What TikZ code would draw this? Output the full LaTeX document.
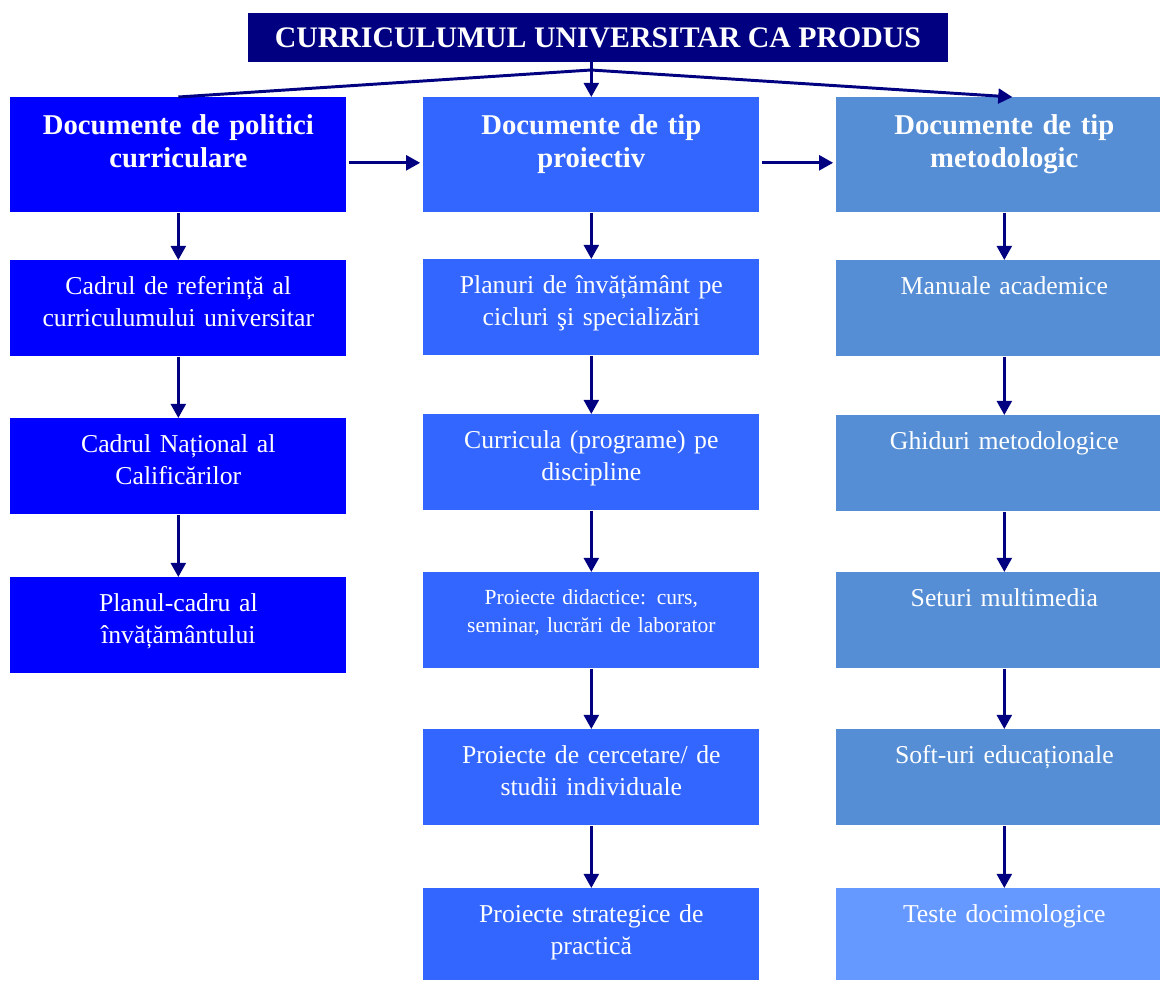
\documentclass[tikz,border=0pt]{standalone}
\usepackage{fontspec}
\setmainfont{Liberation Serif}
\usetikzlibrary{arrows.meta, positioning}

\definecolor{navyline}{HTML}{000080}
\definecolor{polblue}{HTML}{0000FF}
\definecolor{projblue}{HTML}{3366FF}
\definecolor{metblue}{HTML}{558ED5}
\definecolor{testblue}{HTML}{6699FF}

\begin{document}
\begin{tikzpicture}[
    x=0.025cm, y=-0.025cm,
    cell/.style={rectangle, anchor=north west, inner sep=0pt, text=white, align=center, text width=8.4cm},
    head/.style={cell, font=\fontsize{20.4}{23.5}\selectfont\bfseries, text height=0.925cm, text depth=1.95cm},
    body/.style={cell, font=\fontsize{18.3}{22.8}\selectfont, text height=0.85cm, text depth=1.55cm},
    small/.style={cell, font=\fontsize{15.3}{20}\selectfont, text height=0.8cm, text depth=1.6cm},
    last/.style={body, text depth=1.45cm},
    arr/.style={-{Triangle[length=10pt, width=10.5pt]}, line width=2.1pt, navyline},
    link/.style={line width=2.1pt, navyline}
]
\useasboundingbox (0,0) rectangle (1160,981);

% ---- Title ----
\node[fill=navyline, minimum width=17.5cm, minimum height=1.225cm, inner sep=0pt,
      text=white, font=\fontsize{21.2}{23.5}\selectfont\bfseries]
    (title) at (598,37.5) {CURRICULUMUL UNIVERSITAR CA PRODUS};

% ---- Left column: politici curriculare ----
\node[head, fill=polblue] (lhead) at (10,97)  {Documente de politici\\curriculare};
\node[body, fill=polblue] (lref)  at (10,260) {Cadrul de referință al\\curriculumului universitar};
\node[body, fill=polblue] (lcnc)  at (10,418) {Cadrul Național al\\Calificărilor};
\node[body, fill=polblue] (lplan) at (10,577) {Planul-cadru al\\învățământului};

% ---- Middle column: tip proiectiv ----
\node[head, fill=projblue]  (mhead)  at (423,97)  {Documente de tip\\proiectiv};
\node[body, fill=projblue]  (mplan)  at (423,259) {Planuri de învățământ pe\\cicluri şi specializări};
\node[body, fill=projblue]  (mcurr)  at (423,414) {Curricula (programe) pe\\discipline};
\node[small, fill=projblue] (mdid)   at (423,572) {Proiecte didactice: curs,\\seminar, lucrări de laborator};
\node[body, fill=projblue]  (mcerc)  at (423,729) {Proiecte de cercetare/ de\\studii individuale};
\node[last, fill=projblue]  (mstrat) at (423,888) {Proiecte strategice de\\practică};

% ---- Right column: tip metodologic (cut by the right border) ----
\node[head, fill=metblue]  (rhead) at (836,97)  {Documente de tip\\metodologic};
\node[body, fill=metblue]  (rman)  at (836,260) {Manuale academice};
\node[body, fill=metblue]  (rghid) at (836,415) {Ghiduri metodologice};
\node[body, fill=metblue]  (rmult) at (836,572) {Seturi multimedia};
\node[body, fill=metblue]  (rsoft) at (836,729) {Soft-uri educaționale};
\node[last, fill=testblue] (rtest) at (836,888) {Teste docimologice};

% ---- Title -> the three headers ----
\coordinate (hub) at (591,70);
\draw[arr]  (title.south -| mhead.north) -- (mhead.north);
\draw[link] (lhead.north) -- (hub);
\draw[arr]  (hub) -- ([xshift=0.2cm]rhead.north);

% ---- Header -> header ----
\draw[arr, shorten <=1.5pt, shorten >=2pt] ([yshift=-0.2cm]lhead.east) -- ([yshift=-0.2cm]mhead.west);
\draw[arr, shorten <=1.5pt, shorten >=2pt] ([yshift=-0.2cm]mhead.east) -- ([yshift=-0.2cm]rhead.west);

% ---- Downward chains ----
\foreach \a/\b in {lhead/lref, lref/lcnc, lcnc/lplan,
                   mhead/mplan, mplan/mcurr, mcurr/mdid, mdid/mcerc, mcerc/mstrat,
                   rhead/rman, rman/rghid, rghid/rmult, rmult/rsoft, rsoft/rtest}
    \draw[arr] (\a.south) -- (\b.north);

\end{tikzpicture}
\end{document}
